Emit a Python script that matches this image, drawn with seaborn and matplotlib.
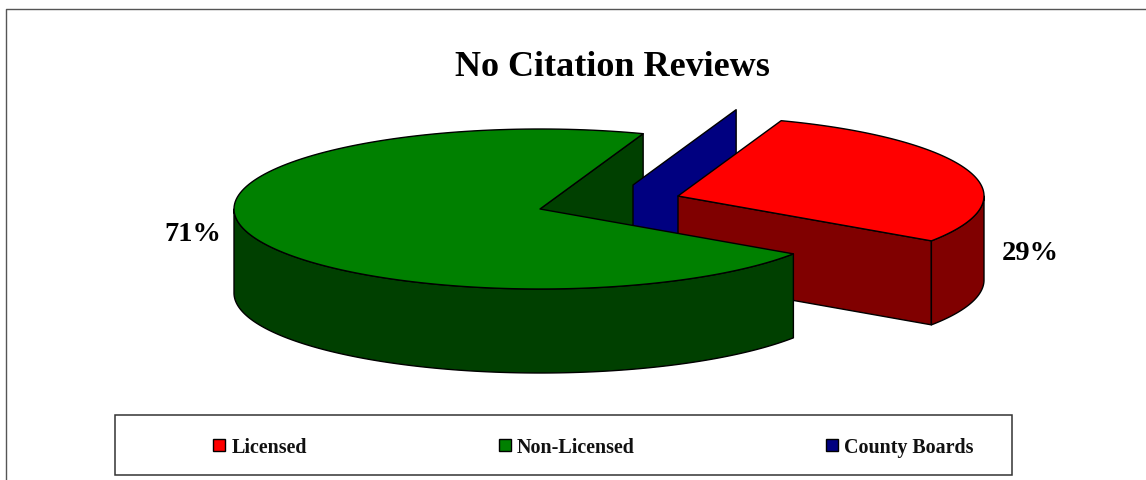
import numpy as np
import seaborn as sns
import matplotlib
matplotlib.use("Agg")
import matplotlib.pyplot as plt
from matplotlib.patches import Patch, Polygon, Rectangle

# Values
categories = ["Licensed", "Non-Licensed", "County Boards"]
shares = [29, 71, 0]
shown_labels = ["29%", "71%"]

# Pie geometry in pixels
START_ANGLE = 70.3
RX, RY, DEPTH = 306, 80, 84
CENTER = (540, 210)
OFFSETS = [(138, -13), (0, 0), (93, -24)]


def rim(center, a0, a1, drop=0):
    t = np.radians(np.linspace(a0, a1, 160))
    return np.column_stack([center[0] + RX * np.cos(t), center[1] + drop - RY * np.sin(t)])


def top_face(center, a0, a1):
    return np.vstack([[center], rim(center, a0, a1)])


def wall(center, a0, a1):
    return np.vstack([rim(center, a0, a1), rim(center, a1, a0, DEPTH)])


def cut_wall(center, angle):
    p = rim(center, angle, angle)[0]
    return np.array([center, p, (p[0], p[1] + DEPTH), (center[0], center[1] + DEPTH)])


def add(ax, pts, color):
    ax.add_patch(Polygon(pts, closed=True, facecolor=color, edgecolor="black", linewidth=1.0, joinstyle="round"))


def main():
    sns.set_theme(style="white")
    plt.rcParams["font.family"] = ["Liberation Serif", "DejaVu Serif"]
    plt.rcParams["font.weight"] = "bold"

    top_colors = sns.color_palette(["#FF0000", "#008000", "#000080"])
    side_colors = sns.color_palette(["#800000", "#004000", "#000080"])

    fig = plt.figure(figsize=(11.46, 4.81), dpi=100)
    ax = fig.add_axes([0, 0, 1, 1])
    ax.set_xlim(0, 1146)
    ax.set_ylim(481, 0)
    ax.axis("off")

    # Slices run clockwise from the start angle
    ends = START_ANGLE - np.cumsum(shares) * 3.6
    starts = np.concatenate([[START_ANGLE], ends[:-1]])
    centers = [(CENTER[0] + dx, CENTER[1] + dy) for dx, dy in OFFSETS]

    # Painted from back to front
    add(ax, cut_wall(centers[1], ends[1]), side_colors[1])
    add(ax, cut_wall(centers[2], starts[2]), side_colors[2])
    add(ax, cut_wall(centers[0], ends[0]), side_colors[0])
    add(ax, wall(centers[0], ends[0], 0), side_colors[0])
    add(ax, top_face(centers[0], starts[0], ends[0]), top_colors[0])
    add(ax, wall(centers[1], starts[1], -180), side_colors[1])
    add(ax, top_face(centers[1], starts[1], ends[1]), top_colors[1])

    # Labels
    ax.text(612, 67, "No Citation Reviews", ha="center", va="center", fontsize=26, color="black")
    ax.text(1030, 253, shown_labels[0], ha="center", va="center", fontsize=20.5, color="black")
    ax.text(193, 235, shown_labels[1], ha="center", va="center", fontsize=20.5, color="black")

    # Frame lines and legend box
    ax.plot([1146, 6, 6], [10, 10, 481], color="#555555", linewidth=1.0, clip_on=False)
    ax.add_patch(Rectangle((115, 416), 897, 60, facecolor="white", edgecolor="#333333", linewidth=1.1))

    handles = [Patch(facecolor=c, edgecolor="black", linewidth=1.0) for c in top_colors]
    ax.legend(
        handles,
        categories,
        ncol=3,
        loc="center",
        bbox_to_anchor=(593.5, 448),
        bbox_transform=ax.transData,
        frameon=False,
        fontsize=14.4,
        handlelength=0.6,
        handleheight=0.6,
        handletextpad=0.3,
        columnspacing=9.58,
        labelcolor="#111111",
    )

    plt.savefig("out.png", dpi=100)


if __name__ == "__main__":
    main()
